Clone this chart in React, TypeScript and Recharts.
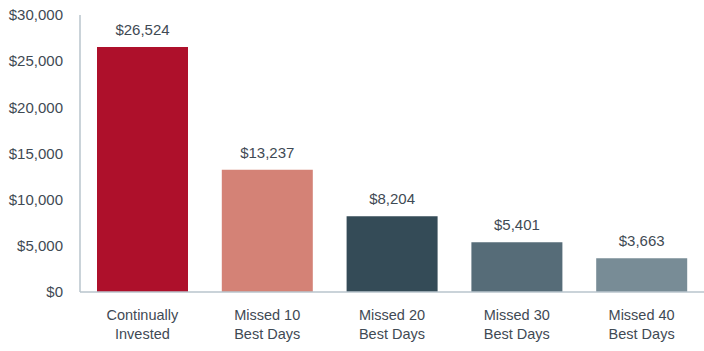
import React from 'react';
import { BarChart, Bar, XAxis, YAxis, Cell, LabelList } from 'recharts';

const categories = ['Continually|Invested', 'Missed 10|Best Days', 'Missed 20|Best Days', 'Missed 30|Best Days', 'Missed 40|Best Days'];
const values = [26524, 13237, 8204, 5401, 3663];
const barColors = ['#ae102b', '#d48276', '#344b57', '#566c78', '#788c96'];
const yTicks = [0, 5000, 10000, 15000, 20000, 25000, 30000];

const data = categories.map((name, i) => ({ name, value: values[i] }));

const textColor = '#3f4a54';
const axisColor = '#b9c5cd';

const fmt = (v: number) => '$' + v.toLocaleString('en-US');

const CategoryTick = (props: any) => {
  const { x, y, payload } = props;
  const lines = String(payload.value).split('|');
  return (
    <text x={x} y={y} textAnchor="middle" fill={textColor} fontSize={14.5} fontFamily="Liberation Sans, Arial, sans-serif">
      {lines.map((l, i) => (
        <tspan key={i} x={x} dy={i === 0 ? 20 : 19}>{l}</tspan>
      ))}
    </text>
  );
};

const App = () => {
  return (
    <div style={{ position: 'absolute', left: 0, top: 0, background: '#fff' }}>
      <BarChart
        width={704}
        height={351}
        data={data}
        margin={{ top: 15, right: 0, left: 0, bottom: 0 }}
        barCategoryGap={17}
      >
        <XAxis
          dataKey="name"
          tick={<CategoryTick />}
          tickLine={false}
          axisLine={{ stroke: axisColor, strokeWidth: 1.5 }}
          height={59}
          interval={0}
        />
        <YAxis
          width={80}
          domain={[0, 30000]}
          ticks={yTicks}
          tickFormatter={fmt}
          tickLine={false}
          tickMargin={11}
          axisLine={{ stroke: axisColor, strokeWidth: 1.5 }}
          tick={{ fill: textColor, fontSize: 15, fontFamily: 'Liberation Sans, Arial, sans-serif' }}
        />
        <Bar dataKey="value" isAnimationActive={false}>
          {data.map((d, i) => (
            <Cell key={d.name} fill={barColors[i]} />
          ))}
          <LabelList
            dataKey="value"
            position="top"
            offset={12}
            formatter={(v: any) => fmt(Number(v))}
            fill={textColor}
            fontSize={15}
            fontFamily="Liberation Sans, Arial, sans-serif"
          />
        </Bar>
      </BarChart>
    </div>
  );
};

export default App;
